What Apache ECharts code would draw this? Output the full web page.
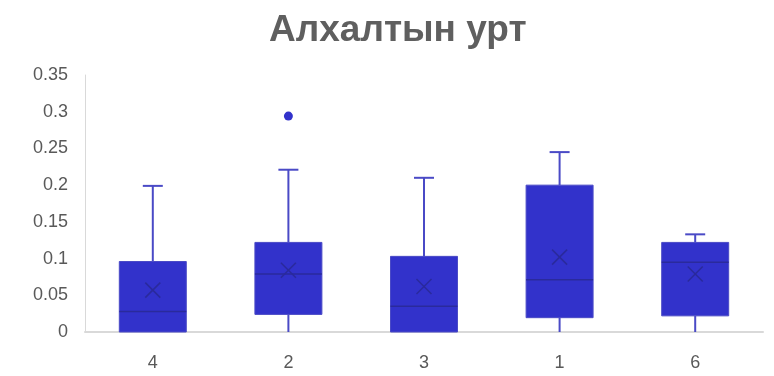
<!DOCTYPE html>
<html>
<head>
<meta charset="utf-8">
<script src="https://cdn.jsdelivr.net/npm/echarts@6/dist/echarts.min.js"></script>
<style>
  html, body { margin: 0; padding: 0; background: #fff; }
  #chart { width: 774px; height: 376px; }
</style>
</head>
<body>
<div id="chart"></div>
<script>
// Step length per group (five-number summary plus mean)
const categories = ['4', '2', '3', '1', '6'];
const mins    = [0,     0,     0,     0,      0];
const q1s     = [0,     0.024, 0,     0.0195, 0.022];
const medians = [0.028, 0.079, 0.035, 0.071,  0.095];
const q3s     = [0.096, 0.122, 0.103, 0.2,    0.122];
const maxs    = [0.199, 0.221, 0.21,  0.245,  0.133];
const means   = [0.057, 0.084, 0.062, 0.102,  0.079];
const outliers = [['2', 0.294]];
const yTicks = { min: 0, max: 0.35, interval: 0.05 };

const FILL = '#3232cb';
const EDGE = '#4a4ac6';
const DARK = '#2a2a9c';

const boxData = categories.map((c, i) =>
  [i, mins[i], q1s[i], medians[i], q3s[i], maxs[i], means[i]]);

function renderBox(params, api) {
  const x = api.value(0);
  const band = api.size([1, 0])[0];
  const half = band * 0.247;
  const cap = 10;
  const pMin = api.coord([x, api.value(1)]);
  const pQ1 = api.coord([x, api.value(2)]);
  const pMed = api.coord([x, api.value(3)]);
  const pQ3 = api.coord([x, api.value(4)]);
  const pMax = api.coord([x, api.value(5)]);
  const pMean = api.coord([x, api.value(6)]);
  const cx = pMed[0];
  const children = [];
  // upper whisker and cap
  children.push({ type: 'line', shape: { x1: cx, y1: pQ3[1], x2: cx, y2: pMax[1] },
    style: { stroke: EDGE, lineWidth: 2 } });
  children.push({ type: 'line', shape: { x1: cx - cap, y1: pMax[1], x2: cx + cap, y2: pMax[1] },
    style: { stroke: EDGE, lineWidth: 2 } });
  // lower whisker
  if (api.value(2) > api.value(1)) {
    children.push({ type: 'line', shape: { x1: cx, y1: pMin[1], x2: cx, y2: pQ1[1] },
      style: { stroke: EDGE, lineWidth: 2 } });
  }
  // interquartile box
  children.push({ type: 'rect',
    shape: { x: cx - half, y: pQ3[1], width: half * 2, height: pQ1[1] - pQ3[1] },
    style: { fill: FILL, stroke: EDGE, lineWidth: 1 } });
  // median
  children.push({ type: 'line', shape: { x1: cx - half, y1: pMed[1], x2: cx + half, y2: pMed[1] },
    style: { stroke: DARK, lineWidth: 1.5 } });
  // mean marker
  const m = 7.5;
  children.push({ type: 'line', shape: { x1: cx - m, y1: pMean[1] - m, x2: cx + m, y2: pMean[1] + m },
    style: { stroke: DARK, lineWidth: 1.5 } });
  children.push({ type: 'line', shape: { x1: cx - m, y1: pMean[1] + m, x2: cx + m, y2: pMean[1] - m },
    style: { stroke: DARK, lineWidth: 1.5 } });
  return { type: 'group', children };
}

const chart = echarts.init(document.getElementById('chart'), null, { renderer: 'canvas' });
chart.setOption({
  animation: false,
  title: {
    text: 'Алхалтын урт',
    left: 264,
    top: 7,
    textStyle: { fontFamily: 'Liberation Sans', fontWeight: 'bold', fontSize: 37, color: '#5f5f5f' }
  },
  grid: { left: 85, right: 11, top: 75, bottom: 44 },
  xAxis: {
    type: 'category',
    data: categories,
    axisLine: { lineStyle: { color: '#d9d9d9', width: 2 } },
    axisTick: { show: false },
    axisLabel: { color: '#595959', fontSize: 18, fontFamily: 'Liberation Sans', margin: 22 },
    splitLine: { show: false }
  },
  yAxis: {
    type: 'value',
    min: yTicks.min, max: yTicks.max, interval: yTicks.interval,
    axisLine: { show: true, lineStyle: { color: '#d9d9d9', width: 1 } },
    axisTick: { show: false },
    splitLine: { show: false },
    axisLabel: { color: '#595959', fontSize: 18, fontFamily: 'Liberation Sans', margin: 17 }
  },
  series: [
    {
      type: 'custom',
      renderItem: renderBox,
      encode: { x: 0, y: [1, 2, 3, 4, 5, 6] },
      data: boxData,
      z: 3
    },
    {
      type: 'scatter',
      data: outliers,
      symbol: 'circle',
      symbolSize: 9,
      itemStyle: { color: FILL, opacity: 1 },
      z: 4
    }
  ]
});
</script>
</body>
</html>
